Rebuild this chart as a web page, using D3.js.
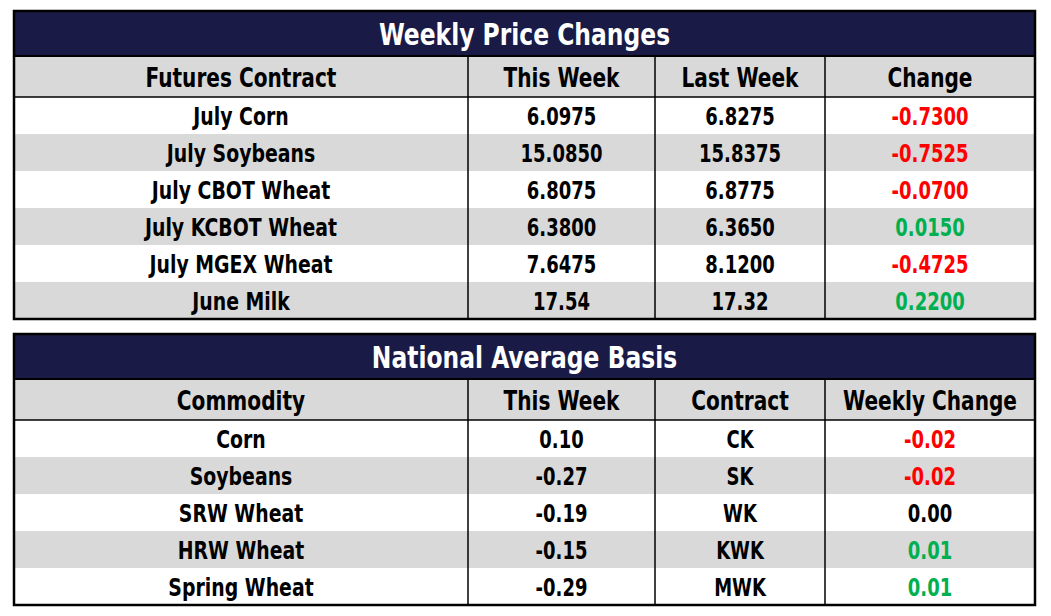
<!DOCTYPE html>
<html>
<head>
  <meta charset="utf-8">
  <title>Weekly Price Changes</title>
  <script src="https://cdn.jsdelivr.net/npm/d3@7"></script>
  <style>
    body { margin: 0; background: #fff; }
    svg text { font-family: "DejaVu Sans Condensed", "DejaVu Sans", sans-serif; font-weight: bold; }
  </style>
</head>
<body>
  <div class="area"></div>
  <script type="text/javascript">

  // data: weekly price changes
  var priceHeaders = ['Futures Contract', 'This Week', 'Last Week', 'Change'];
  var priceContracts = ['July Corn', 'July Soybeans', 'July CBOT Wheat', 'July KCBOT Wheat', 'July MGEX Wheat', 'June Milk'];
  var priceThisWeek = ['6.0975', '15.0850', '6.8075', '6.3800', '7.6475', '17.54'];
  var priceLastWeek = ['6.8275', '15.8375', '6.8775', '6.3650', '8.1200', '17.32'];
  var priceChange = ['-0.7300', '-0.7525', '-0.0700', '0.0150', '-0.4725', '0.2200'];

  // data: national average basis
  var basisHeaders = ['Commodity', 'This Week', 'Contract', 'Weekly Change'];
  var basisCommodity = ['Corn', 'Soybeans', 'SRW Wheat', 'HRW Wheat', 'Spring Wheat'];
  var basisThisWeek = ['0.10', '-0.27', '-0.19', '-0.15', '-0.29'];
  var basisContract = ['CK', 'SK', 'WK', 'KWK', 'MWK'];
  var basisChange = ['-0.02', '-0.02', '0.00', '0.01', '0.01'];

  var w = 1051, h = 616;
  var navy = '#1a1a46', gray = '#d9d9d9';
  var red = '#ff0000', green = '#00b050';

  var svg = d3.select('.area').append('svg')
    .attr('width', w).attr('height', h);

  // column edges shared by both tables
  var colEdges = [14, 468, 655, 825, 1035];
  var left = colEdges[0], right = colEdges[4];
  var titleH = 45, headH = 41, rowH = 37;

  function changeColor(v){
    var n = +v;
    return n < 0 ? red : (n > 0 ? green : '#000');
  }

  // narrow the glyphs a bit more to mimic the condensed face
  function place(x, y, sx){
    return 'translate(' + x + ',' + y + ') scale(' + sx + ',1)';
  }

  function drawTable(top, title, headers, cols, colorCol){
    var n = cols[0].length;
    var g = svg.append('g').attr('transform', 'translate(0,' + top + ')');
    var bodyTop = titleH + headH;
    var bottom = bodyTop + n * rowH;

    var y = d3.scaleBand().domain(d3.range(n)).range([bodyTop, bottom]);

    // title band
    g.append('rect').attr('x', left).attr('y', 0)
      .attr('width', right - left).attr('height', titleH).attr('fill', navy);
    g.append('text')
      .attr('transform', place((left + right) / 2, titleH / 2 + 11, 0.84))
      .attr('text-anchor', 'middle').attr('fill', '#fff')
      .attr('font-size', 31).text(title);

    // header row
    g.append('rect').attr('x', left).attr('y', titleH)
      .attr('width', right - left).attr('height', headH).attr('fill', gray);
    g.selectAll('.head').data(headers).enter().append('text')
      .attr('transform', function(d, i){
        return place((colEdges[i] + colEdges[i + 1]) / 2, titleH + headH / 2 + 10, 0.86);
      })
      .attr('text-anchor', 'middle').attr('font-size', 26).attr('fill', '#000')
      .text(function(d){ return d; });

    // striped body rows
    g.selectAll('.row').data(d3.range(n)).enter().append('rect')
      .attr('x', left).attr('y', function(i){ return y(i); })
      .attr('width', right - left).attr('height', y.bandwidth())
      .attr('fill', function(i){ return i % 2 ? gray : '#fff'; });

    cols.forEach(function(col, c){
      g.selectAll('.c' + c).data(col).enter().append('text')
        .attr('transform', function(d, i){
          return place((colEdges[c] + colEdges[c + 1]) / 2, y(i) + rowH / 2 + 9, c === 0 ? 0.84 : 0.8);
        })
        .attr('text-anchor', 'middle').attr('font-size', 25)
        .attr('fill', function(d){ return c === colorCol ? changeColor(d) : '#000'; })
        .text(function(d){ return d; });
    });

    // grid lines
    g.append('line').attr('x1', left).attr('x2', right)
      .attr('y1', titleH).attr('y2', titleH).attr('stroke', '#000').attr('stroke-width', 2);
    g.append('line').attr('x1', left).attr('x2', right)
      .attr('y1', bodyTop).attr('y2', bodyTop).attr('stroke', '#000').attr('stroke-width', 1.5);
    g.selectAll('.vline').data(colEdges.slice(1, 4)).enter().append('line')
      .attr('x1', function(d){ return d; }).attr('x2', function(d){ return d; })
      .attr('y1', titleH).attr('y2', bottom)
      .attr('stroke', '#000').attr('stroke-width', 1.5);

    // outer border
    g.append('rect').attr('x', left).attr('y', 0)
      .attr('width', right - left).attr('height', bottom)
      .attr('fill', 'none').attr('stroke', '#000').attr('stroke-width', 2.5);
  }

  drawTable(11, 'Weekly Price Changes', priceHeaders,
    [priceContracts, priceThisWeek, priceLastWeek, priceChange], 3);
  drawTable(334, 'National Average Basis', basisHeaders,
    [basisCommodity, basisThisWeek, basisContract, basisChange], 3);

  </script>
</body>
</html>
